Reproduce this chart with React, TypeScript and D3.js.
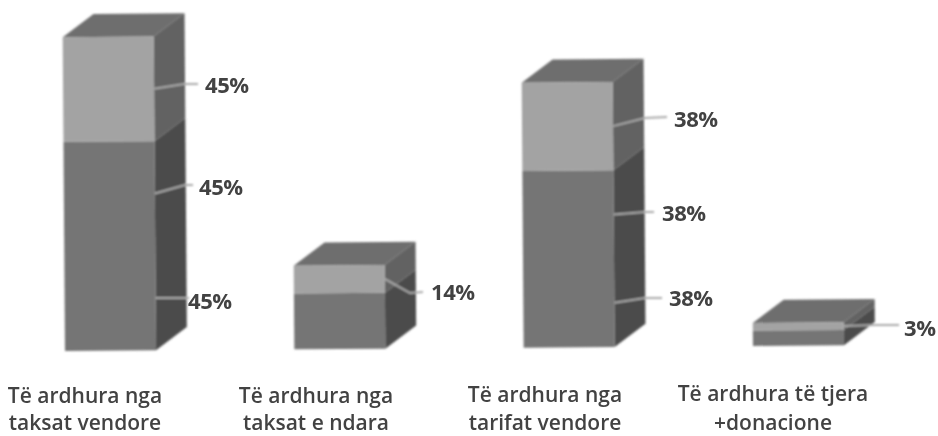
import React from "react";
import * as d3 from "d3";

const categories = ["c1", "c2", "c3", "c4"];
const categoryLines = [
  ["Të ardhura nga", "taksat vendore"],
  ["Të ardhura nga", "taksat e ndara"],
  ["Të ardhura nga", "tarifat vendore"],
  ["Të ardhura të tjera", "+donacione"],
];
// Segment heights, on the first bar's 45% scale
const bottomSeries = [45, 12, 38, 3.3];
const middleSeries = [45, 12, 38, 3.3];
const topSeries = [45, 12, 38, 3.3];
const bottomLabels = ["45%", "", "38%", ""];
const middleLabels = ["45%", "", "38%", ""];
const topLabels = ["45%", "14%", "38%", "3%"];

// Layout
const W = 938, H = 436;
const barW = 91, depthX = 31, depthY = -23, baseY = 351, originX = 65;
const tiltDeg = 0.42;
const x = d3.scalePoint<string>().domain(categories).range([65, 753]);
const h = d3.scaleLinear().domain([0, 45]).range([0, 104.6]);

const tilt = ([px, py]: number[]) => {
  const a = (tiltDeg * Math.PI) / 180;
  const dx = px - originX, dy = py - baseY;
  return [originX + dx * Math.cos(a) + dy * Math.sin(a), baseY - dx * Math.sin(a) + dy * Math.cos(a)];
};
const poly = (pts: number[][]) => d3.line()(pts.map(tilt) as [number, number][]) + "Z";

// screen positions of labels: [text start x, baseline y], leader bend & end
const labelLayout: Record<string, { lx: number; ly: number; bend: number[]; end: number[] }> = {
  "0-top": { lx: 205, ly: 93, bend: [184, 84], end: [198, 84] },
  "0-mid": { lx: 199, ly: 195, bend: [185, 185], end: [193, 185] },
  "0-bot": { lx: 188, ly: 309, bend: [187, 298], end: [189, 298] },
  "1-top": { lx: 431, ly: 300, bend: [410, 293], end: [423, 292] },
  "2-top": { lx: 674, ly: 127, bend: [645, 118], end: [667, 117] },
  "2-mid": { lx: 662, ly: 221, bend: [645, 212], end: [654, 212] },
  "2-bot": { lx: 669, ly: 306, bend: [645, 298], end: [662, 298] },
  "3-top": { lx: 904, ly: 336, bend: [875, 325], end: [899, 325] },
};
const catLayout = [
  { cx: 85, y: [403, 430] },
  { cx: 316, y: [403, 430] },
  { cx: 545, y: [402, 430] },
  { cx: 773, y: [401, 430] },
];
const colors = {
  lightFront: "#a3a3a3",
  darkFront: "#747474",
  cap: "#6e6e6e",
  lightSide: "#626262",
  darkSide: "#4c4c4c",
  leader: "#a9a9a9",
  text: "#434343",
};

export default function App() {
  return (
    <svg width={W} height={H} viewBox={`0 0 ${W} ${H}`} style={{ position: "absolute", left: 0, top: 0, background: "#fff" }}>
      <defs>
        <filter id="scan" x="-5%" y="-5%" width="110%" height="110%">
          <feGaussianBlur stdDeviation="0.8" />
        </filter>
        <filter id="scanText" x="-5%" y="-20%" width="110%" height="140%">
          <feGaussianBlur stdDeviation="0.45" />
        </filter>
      </defs>
      <g filter="url(#scan)">
        {categories.map((c, i) => {
          const x0 = x(c)!;
          const y1 = baseY - h(bottomSeries[i]);
          const y2 = y1 - h(middleSeries[i]);
          const y3 = y2 - h(topSeries[i]);
          const xr = x0 + barW;
          const back = (p: number[]) => [p[0] + depthX, p[1] + depthY];
          const side = (a: number, b: number) => poly([[xr, a], [xr, b], back([xr, b]), back([xr, a])]);
          const front = (a: number, b: number) => poly([[x0, a], [x0, b], [xr, b], [xr, a]]);
          return (
            <g key={c}>
              <path d={poly([[x0, y3], [xr, y3], back([xr, y3]), back([x0, y3])])} fill={colors.cap} />
              <path d={side(baseY, y2)} fill={colors.darkSide} />
              <path d={side(y2, y3)} fill={colors.lightSide} />
              <path d={front(baseY, y2)} fill={colors.darkFront} />
              <path d={front(y2, y3)} fill={colors.lightFront} />
              {[
                { key: "bot", label: bottomLabels[i], a: baseY, b: y1 },
                { key: "mid", label: middleLabels[i], a: y1, b: y2 },
                { key: "top", label: topLabels[i], a: y2, b: y3 },
              ].filter((s) => s.label).map((s) => {
                const l = labelLayout[`${i}-${s.key}`];
                const start = tilt([xr, (s.a + s.b) / 2]);
                return (
                  <path key={s.key} d={d3.line()([start, l.bend, l.end] as [number, number][])!} fill="none" stroke={colors.leader} strokeWidth={2} />
                );
              })}
            </g>
          );
        })}
      </g>
      <g filter="url(#scanText)" fill={colors.text} fontFamily="'Open Sans', 'Noto Sans', sans-serif">
        {categories.map((c, i) =>
          [
            { key: "bot", label: bottomLabels[i] },
            { key: "mid", label: middleLabels[i] },
            { key: "top", label: topLabels[i] },
          ].filter((s) => s.label).map((s) => {
            const l = labelLayout[`${i}-${s.key}`];
            return (
              <text key={c + s.key} x={l.lx} y={l.ly} fontSize={22} fontWeight={700} letterSpacing={-0.4}>
                {s.label}
              </text>
            );
          })
        )}
        {categoryLines.map((lines, i) =>
          lines.map((t, j) => (
            <text key={i + "-" + j} x={catLayout[i].cx} y={catLayout[i].y[j]} textAnchor="middle" fontSize={21} fontWeight={600}>
              {t}
            </text>
          ))
        )}
      </g>
    </svg>
  );
}
